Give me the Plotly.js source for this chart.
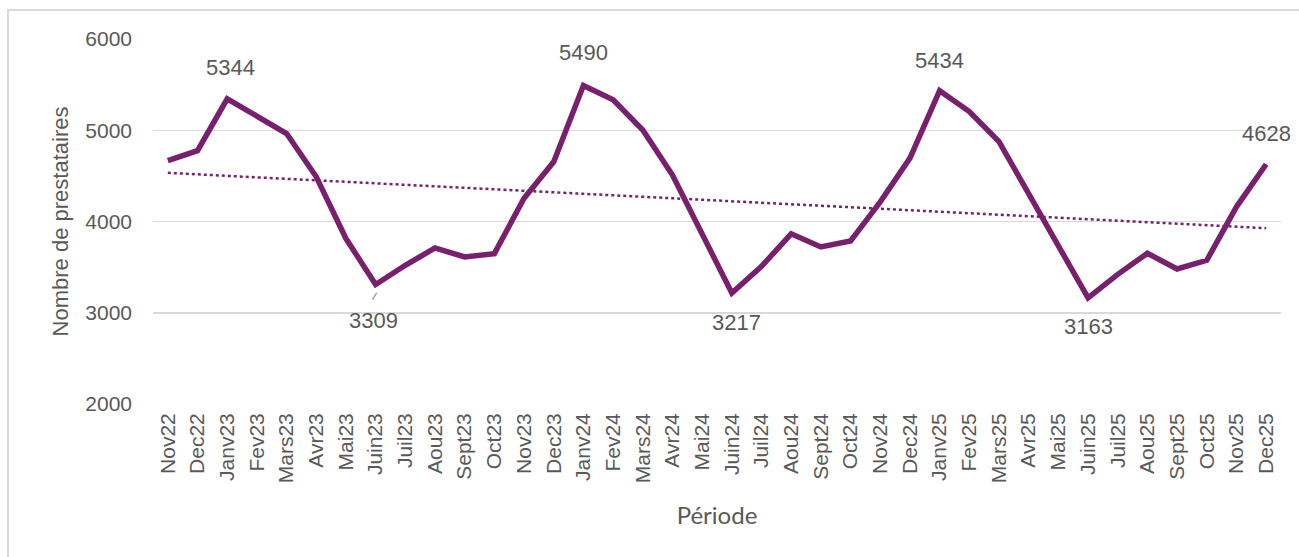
<!DOCTYPE html>
<html>
<head>
<meta charset="utf-8">
<script src="https://cdn.plot.ly/plotly-3.0.1.min.js"></script>
<style>
  html, body { margin: 0; padding: 0; background: #fff; }
  #wrap { position: relative; width: 1299px; height: 557px; }
  #chart { width: 1299px; height: 557px; }
  #frame { position: absolute; left: 7px; top: 9px; width: 1292px; height: 548px;
           border-left: 2px solid #d9d9d9; border-top: 2px solid #d9d9d9; pointer-events: none; }
</style>
</head>
<body>
<div id="wrap">
  <div id="chart"></div>
  <div id="frame"></div>
</div>
<script>
const periods = ["Nov22","Dec22","Janv23","Fev23","Mars23","Avr23","Mai23","Juin23","Juil23","Aou23","Sept23","Oct23",
  "Nov23","Dec23","Janv24","Fev24","Mars24","Avr24","Mai24","Juin24","Juil24","Aou24","Sept24","Oct24",
  "Nov24","Dec24","Janv25","Fev25","Mars25","Avr25","Mai25","Juin25","Juil25","Aou25","Sept25","Oct25","Nov25","Dec25"];
const prestataires = [4666,4776,5344,5155,4964,4490,3813,3309,3520,3710,3611,3648,
  4255,4655,5490,5333,5003,4509,3870,3217,3509,3865,3721,3787,
  4216,4695,5434,5205,4875,4300,3715,3163,3421,3652,3480,3575,4161,4628];
const labelledPoints = ["Janv23","Juin23","Janv24","Juin24","Janv25","Juin25","Dec25"];
const yTicks = [2000,3000,4000,5000,6000];

// Linear trendline (least squares) computed from the series
const n = prestataires.length;
let sx=0, sy=0, sxx=0, sxy=0;
prestataires.forEach((v,i)=>{ sx+=i; sy+=v; sxx+=i*i; sxy+=i*v; });
const slope = (n*sxy - sx*sy) / (n*sxx - sx*sx);
const intercept = (sy - slope*sx) / n;
const trend = prestataires.map((v,i)=> intercept + slope*i);

const purple = '#78206E';
const grey = '#595959';

const traces = [
  { x: periods, y: trend, type: 'scatter', mode: 'lines',
    line: { color: purple, width: 2.5, dash: 'dot' }, hoverinfo: 'skip' },
  { x: periods, y: prestataires, type: 'scatter', mode: 'lines',
    line: { color: purple, width: 5.5 } }
];

// label placement offsets (pixels) per labelled point
const labelOffsets = {
  "Janv23": [3, -31], "Juin23": [-2, 36], "Janv24": [0, -33], "Juin24": [5, 30],
  "Janv25": [0, -30], "Juin25": [0, 29], "Dec25": [0, -31]
};

const annotations = labelledPoints.map(p => {
  const i = periods.indexOf(p);
  const v = prestataires[i];
  const off = labelOffsets[p];
  return { x: p, y: v, xref: 'x', yref: 'y', text: String(v), showarrow: true,
           arrowcolor: 'rgba(0,0,0,0)', ax: off[0], ay: off[1],
           font: { family: 'Liberation Sans, Arial, sans-serif', size: 22, color: grey } };
});

const shapes = [{
  type: 'line', xref: 'x', yref: 'y', xsizemode: 'pixel', ysizemode: 'pixel',
  xanchor: 'Juin23', yanchor: prestataires[periods.indexOf('Juin23')],
  x0: 1, x1: -3, y0: -8, y1: -15, line: { color: '#a6a6a6', width: 1.5 }
}];

const layout = {
  width: 1299, height: 557,
  margin: { l: 153, r: 18, t: 39, b: 153 },
  paper_bgcolor: '#ffffff', plot_bgcolor: '#ffffff',
  showlegend: false,
  font: { family: 'Liberation Sans, Arial, sans-serif', color: grey },
  xaxis: {
    type: 'category', categoryorder: 'array', categoryarray: periods,
    range: [-0.5, periods.length - 0.5],
    tickangle: -90, tickfont: { size: 21, color: grey },
    showgrid: false, zeroline: false, showline: false, ticks: '', ticklabelstandoff: 4,
    title: { text: 'Période', font: { size: 24, family: 'Lato, Liberation Sans, sans-serif', color: grey }, standoff: 24 },
    automargin: false
  },
  yaxis: {
    range: [2000, 6000], tickvals: yTicks, ticktext: yTicks.map(String),
    tickfont: { size: 21, color: grey },
    showgrid: true, gridcolor: '#d9d9d9', gridwidth: 1.5,
    zeroline: false, showline: false, ticks: '', ticklabelstandoff: 20,
    title: { text: 'Nombre de prestataires', font: { size: 22, color: grey }, standoff: 10 },
    automargin: false
  },
  annotations: annotations,
  shapes: shapes
};

Plotly.newPlot('chart', traces, layout, { displayModeBar: false, staticPlot: true });
</script>
</body>
</html>
